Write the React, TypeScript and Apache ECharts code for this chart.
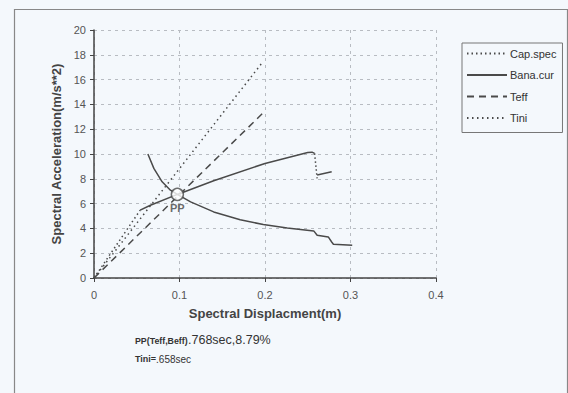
import React, { useEffect, useRef } from "react";
import * as echarts from "echarts";

const xTicks = [0, 0.1, 0.2, 0.3, 0.4];
const yTicks = [0, 2, 4, 6, 8, 10, 12, 14, 16, 18, 20];

// capacity spectrum: dotted initial and drop parts
const capInit: number[][] = [[0, 0], [0.054, 5.47]];
const capDrop: number[][] = [[0.258, 10.05], [0.261, 8.03]];
// capacity spectrum: solid parts
const capSolid: number[][] = [
  [0.054, 5.47], [0.066, 5.87], [0.0975, 6.74], [0.14, 7.84], [0.2, 9.24],
  [0.25, 10.12], [0.255, 10.15], [0.258, 10.05],
];
const capTail: number[][] = [[0.261, 8.3], [0.278, 8.56]];
// demand curve
const banaCur: number[][] = [
  [0.063, 10.0], [0.07, 8.84], [0.0797, 7.76], [0.0894, 7.08], [0.0975, 6.74],
  [0.113, 6.14], [0.14, 5.33], [0.171, 4.7], [0.198, 4.31], [0.226, 4.04],
  [0.257, 3.8], [0.261, 3.45], [0.274, 3.31], [0.278, 2.9], [0.28, 2.72], [0.302, 2.64],
];
const teffLine: number[][] = [[0, 0], [0.198, 13.33]];
const tiniLine: number[][] = [[0, 0], [0.196, 17.3]];
const ppPoint: number[][] = [[0.0975, 6.74]];

const legendNames = ["Cap.spec", "Bana.cur", "Teff", "Tini"];

const FONT = "'Liberation Sans', Arial, sans-serif";
const LINE = "#4a4a4a";
const BG = "#f4f8fc";

export default function App() {
  const ref = useRef<HTMLDivElement>(null);
  useEffect(() => {
    if (!ref.current) return;
    const chart = echarts.init(ref.current, null, { renderer: "svg" });
    chart.setOption({
      animation: false,
      backgroundColor: BG,
      color: [LINE, LINE, LINE, LINE, LINE, LINE, LINE, LINE],
      textStyle: { fontFamily: FONT },
      grid: { left: 94, right: 132, top: 30, bottom: 115 },
      legend: {
        data: legendNames,
        orient: "vertical",
        left: 462,
        top: 43,
        width: 94,
        height: 88,
        itemWidth: 40,
        itemHeight: 12,
        itemGap: 10.5,
        padding: [5, 6, 9, 4],
        borderColor: "#777",
        borderWidth: 1,
        backgroundColor: BG,
        itemStyle: { opacity: 0 },
        textStyle: { fontSize: 11, color: "#333", fontFamily: FONT, padding: [0, 0, 0, -2] },
      },
      xAxis: {
        type: "value",
        min: xTicks[0],
        max: xTicks[xTicks.length - 1],
        interval: 0.1,
        name: "Spectral Displacment(m)",
        nameLocation: "middle",
        nameGap: 29,
        nameTextStyle: { fontSize: 13, fontWeight: "bold", color: "#444", fontFamily: FONT },
        axisLine: { lineStyle: { color: "#444", width: 1.5 } },
        axisTick: { show: true, length: 4, lineStyle: { color: "#444" } },
        axisLabel: { fontSize: 11, color: "#555", margin: 11, fontFamily: FONT },
        splitLine: { show: true, lineStyle: { color: "#b8bcc2", type: [3, 4], width: 1 } },
      },
      yAxis: {
        type: "value",
        min: yTicks[0],
        max: yTicks[yTicks.length - 1],
        interval: 2,
        name: "Spectral Acceleration(m/s**2)",
        nameLocation: "middle",
        nameGap: 30,
        nameTextStyle: { fontSize: 13, fontWeight: "bold", color: "#444", fontFamily: FONT },
        axisLine: { show: true, lineStyle: { color: "#444", width: 1.5 } },
        axisTick: { show: true, length: 4, lineStyle: { color: "#444" } },
        axisLabel: { fontSize: 11, color: "#555", margin: 8, fontFamily: FONT },
        splitLine: { show: true, lineStyle: { color: "#b8bcc2", type: [3, 4], width: 1 } },
      },
      series: [
        {
          name: "Cap.spec", type: "line", data: capInit, symbol: "none",
          itemStyle: { color: LINE },
          lineStyle: { color: LINE, width: 1.5, type: [1.5, 3] },
        },
        {
          name: "Bana.cur", type: "line", data: banaCur, symbol: "none",
          itemStyle: { color: LINE },
          lineStyle: { color: LINE, width: 1.5, type: "solid" },
        },
        {
          name: "Teff", type: "line", data: teffLine, symbol: "none",
          itemStyle: { color: LINE },
          lineStyle: { color: LINE, width: 1.5, type: [7, 5] },
        },
        {
          name: "Tini", type: "line", data: tiniLine, symbol: "none",
          itemStyle: { color: LINE },
          lineStyle: { color: LINE, width: 1.5, type: [1.5, 3.5] },
        },
        {
          name: "Cap.spec", type: "line", data: capDrop, symbol: "none",
          itemStyle: { color: LINE },
          lineStyle: { color: LINE, width: 1.5, type: [1.5, 2.5] },
        },
        {
          name: "Capacity", type: "line", data: capSolid, symbol: "none",
          itemStyle: { color: LINE },
          lineStyle: { color: LINE, width: 1.5 },
        },
        {
          name: "CapacityTail", type: "line", data: capTail, symbol: "none",
          itemStyle: { color: LINE },
          lineStyle: { color: LINE, width: 1.5 },
        },
        {
          name: "PP", type: "scatter", data: ppPoint, symbol: "circle", symbolSize: 12,
          itemStyle: { color: "#ffffff", borderColor: LINE, borderWidth: 1.5 },
          label: {
            show: true, formatter: "PP", position: "bottom", distance: 1,
            fontSize: 11, fontWeight: "bold", color: "#444", fontFamily: FONT,
          },
          z: 5,
        },
      ],
      graphic: [
        {
          type: "rect", left: 12, top: 7, silent: true,
          shape: { width: 553, height: 400 },
          style: { fill: "none", stroke: "#888", lineWidth: 1.2 },
        },
        {
          type: "text", left: 135, top: 336,
          style: { text: "PP(Teff,Beff)", fontSize: 8.8, fontWeight: "bold", fill: "#333", fontFamily: FONT },
        },
        {
          type: "text", left: 188, top: 333,
          style: { text: ".768sec,8.79%", fontSize: 12.5, fill: "#333", fontFamily: FONT },
        },
        {
          type: "text", left: 135, top: 354,
          style: {
            text: "{b|Tini=}{n|.658sec}",
            rich: {
              b: { fontSize: 9, fontWeight: "bold", fill: "#333", fontFamily: FONT },
              n: { fontSize: 10, fill: "#333", fontFamily: FONT },
            },
          },
        },
      ],
    });
    return () => chart.dispose();
  }, []);
  return (
    <div
      ref={ref}
      style={{ position: "fixed", left: 0, top: 0, width: 568, height: 393 }}
    />
  );
}
